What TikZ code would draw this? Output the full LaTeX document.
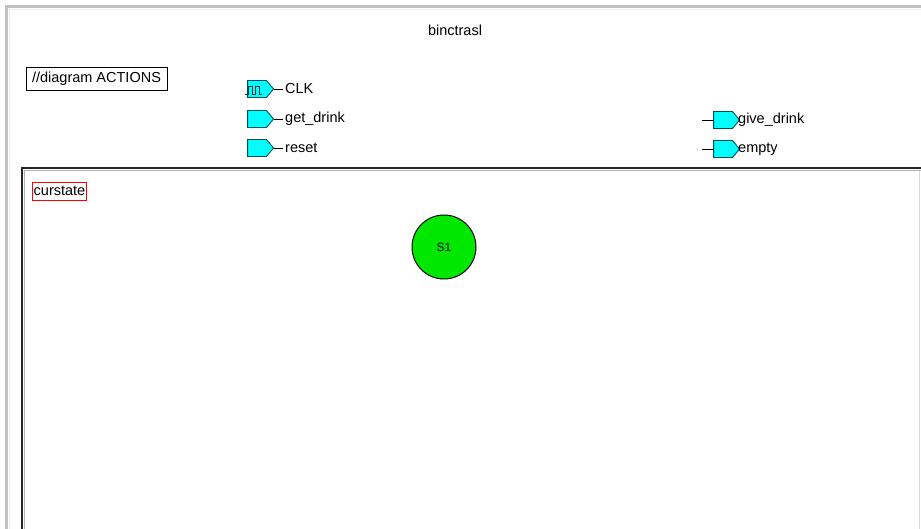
\documentclass[tikz,border=0pt]{standalone}
\usepackage{fontspec}
\setmainfont{Liberation Sans}
\usetikzlibrary{shapes.symbols,calc}
\definecolor{portfill}{RGB}{0,255,255}
\definecolor{portdraw}{RGB}{0,80,80}
\definecolor{stategreen}{RGB}{0,232,0}
\definecolor{framegray}{RGB}{192,192,192}
\begin{document}
\begin{tikzpicture}[x=1pt,y=-1pt,
  lbl/.style={font=\fontsize{14.5}{16}\selectfont, inner sep=0pt},
  portbox/.style={signal, signal to=east, signal pointer angle=100,
    fill=portfill, draw=portdraw, line width=0.9pt, outer sep=0pt,
    minimum width=26pt, minimum height=17pt, inner sep=0pt},
  wire/.style={draw=black, line width=0.9pt},
  statenode/.style={circle, fill=stategreen, draw=black, line width=1pt,
    minimum size=64pt, inner sep=0pt, font=\fontsize{12}{14}\selectfont}]
\useasboundingbox (0,0) rectangle (921,529);
\fill[white] (0,0) rectangle (921,529);
% outer gray frame
\draw[framegray, line width=3pt] (921,7) -- (6.5,7) -- (6.5,529);
\draw[black!8, line width=1pt] (921,10) -- (9.5,10) -- (9.5,529);
% title
\node[lbl] (title) at (455,30) {binctrasl};
% diagram actions box
\node[lbl, draw=black, line width=0.9pt, minimum width=141pt, minimum height=23pt] (actions) at (96.5,78.5) {//diagram ACTIONS};
% left ports
\node[portbox] (clk) at (257,89) {};
\node[portbox] (getd) at (257,119) {};
\node[portbox] (rst) at (257,148) {};
\draw[portdraw!60!black, line width=1.2pt] (245,94.5) -- (248.5,94.5) -- (248.5,86.5) -- (252.5,86.5) -- (252.5,94.5) -- (255.5,94.5) -- (255.5,86.5) -- (259.5,86.5) -- (259.5,94.5) -- (262,94.5);
\node[lbl, anchor=west] (clkt) at (285,89) {CLK};
\node[lbl, anchor=west] (getdt) at (285,119) {get\_drink};
\node[lbl, anchor=west] (rstt) at (285,148) {reset};
\draw[wire, shorten >=2pt] (clk.east) -- (clkt.west);
\draw[wire, shorten >=2pt] (getd.east) -- (getdt.west);
\draw[wire, shorten >=2pt] (rst.east) -- (rstt.west);
% right ports
\coordinate (gin) at (702,120);
\coordinate (ein) at (702,149);
\node[portbox] (give) at (723,120) {};
\node[portbox] (empty) at (723,149) {};
\node[lbl, anchor=west] (givet) at (738,120) {give\_drink};
\node[lbl, anchor=west] (emptyt) at (738,149) {empty};
\draw[wire] (gin) -- (give.west);
\draw[wire] (ein) -- (empty.west);
% main state diagram box
\draw[black!85, line width=2pt] (921,168) -- (22,168) -- (22,529);
\draw[black!30, line width=0.8pt] (921,170) -- (24,170) -- (24,529);
\draw[black!15, line width=0.8pt] (919.5,171) -- (919.5,529);
% curstate
\node[lbl, draw=red, line width=0.9pt, minimum width=53pt, minimum height=18pt, inner sep=1pt] (cur) at (59.5,191) {curstate};
% state
\node[statenode] (s1) at (444,247) {S1};
\end{tikzpicture}
\end{document}
